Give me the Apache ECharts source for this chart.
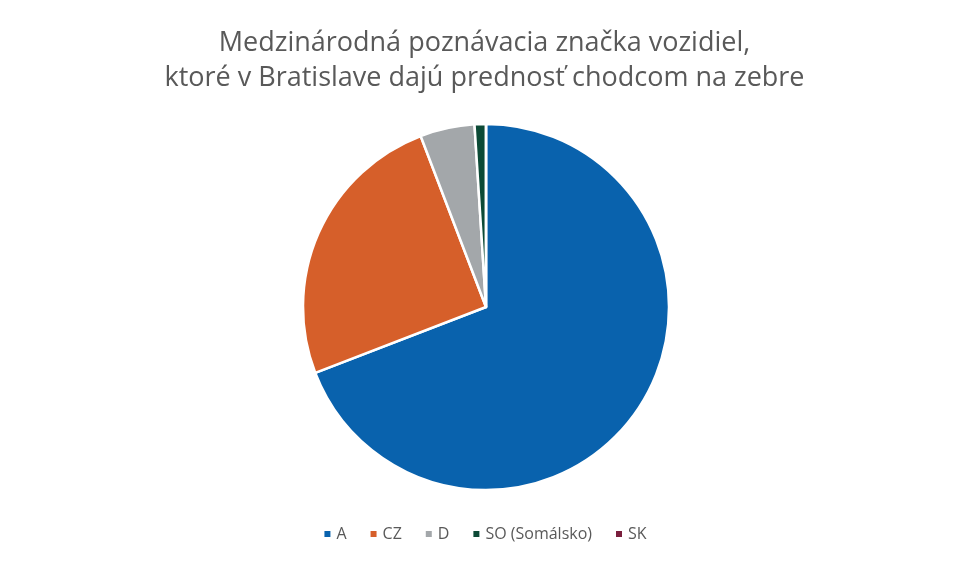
<!DOCTYPE html>
<html>
<head>
<meta charset="utf-8">
<script src="https://cdn.jsdelivr.net/npm/echarts@6/dist/echarts.min.js"></script>
<style>
  html, body { margin: 0; padding: 0; background: #fff; }
  #chart { width: 969px; height: 566px; }
</style>
</head>
<body>
<div id="chart"></div>
<script>
var categories = ['A', 'CZ', 'D', 'SO (Somálsko)', 'SK'];
var values = [69, 25, 4.8, 1, 0];
var colors = ['#0962ad', '#d65f2a', '#a3a7aa', '#0c4a36', '#7a1f3d'];

var myChart = echarts.init(document.getElementById('chart'));

var options = {
  animation: false,
  color: colors,
  title: {
    text: 'Medzinárodná poznávacia značka vozidiel,\nktoré v Bratislave dajú prednosť chodcom na zebre',
    left: 'center',
    top: 21,
    textStyle: {
      fontFamily: 'Open Sans',
      fontSize: 27,
      fontWeight: 'normal',
      color: '#595959',
      lineHeight: 35
    }
  },
  legend: {
    bottom: 19,
    left: 'center',
    icon: 'rect',
    itemWidth: 8,
    itemHeight: 8,
    itemGap: 22,
    textStyle: { fontFamily: 'Open Sans', fontSize: 16, color: '#595959' },
    data: categories
  },
  series: [
    {
      type: 'pie',
      center: [486, 307],
      radius: 183,
      startAngle: 90,
      clockwise: true,
      label: { show: false },
      labelLine: { show: false },
      emphasis: { disabled: true },
      itemStyle: { borderColor: '#fff', borderWidth: 2.5 },
      data: categories.map(function (name, i) {
        return { name: name, value: values[i] };
      })
    }
  ]
};

myChart.setOption(options);
</script>
</body>
</html>
